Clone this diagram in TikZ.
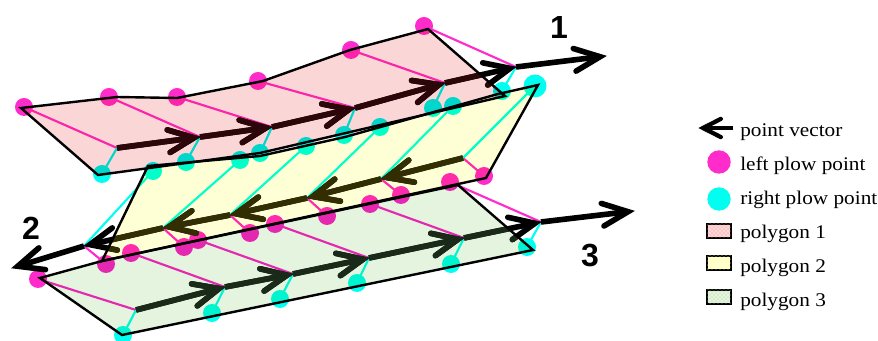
\documentclass[tikz,border=0pt]{standalone}
\usepackage{fontspec}
\setmainfont{Liberation Serif}
\newfontfamily\numfont{Liberation Sans}
\newfontfamily\legfont[FakeStretch=1.1]{Liberation Serif}
\usetikzlibrary{calc,patterns}
\definecolor{magpt}{HTML}{FF2BCB}
\definecolor{cyanpt}{HTML}{00FFF0}
\definecolor{fillA}{HTML}{FBD6D6}
\definecolor{fillB}{HTML}{FFFFD6}
\definecolor{fillC}{HTML}{E4F4DE}
\definecolor{patA}{HTML}{FF8E8E}
\definecolor{patB}{HTML}{FFFF70}
\definecolor{patC}{HTML}{A8DC98}
\definecolor{vecA}{HTML}{2C0608}
\definecolor{vecB}{HTML}{322E02}
\definecolor{vecC}{HTML}{1A2A18}
\tikzset{
  x=0.75pt,y=-0.75pt,
  lpt/.style={fill=magpt,draw=none},
  rpt/.style={fill=cyanpt,draw=none},
  lline/.style={draw=magpt,line width=1.6pt},
  rline/.style={draw=cyanpt,line width=1.6pt},
  poly/.style={draw=black,line width=1.8pt,line join=miter},
  vecshaft/.style={line width=4.2pt},
  vechead/.style={line width=4.2pt,line cap=round,line join=miter},
  polylabel/.style={font=\numfont\bfseries\fontsize{24}{24}\selectfont,inner sep=0pt},
  legendtext/.style={font=\legfont\fontsize{14.5}{14.5}\selectfont,anchor=base west,inner sep=0pt},
  swatch/.style={draw=black,line width=1.8pt},
}
% #1 colour, #2 from, #3 to: a thick shaft with an open head at #3
\newcommand\vecseg[3]{%
  \coordinate (apex) at ($(#3)!4.5pt!(#2)$);
  \draw[vecshaft,#1] (#2) -- (apex);
  \draw[vechead,#1] ($(apex)!21pt!24:(#2)$) -- (apex) -- ($(apex)!21pt!-24:(#2)$);
}
\begin{document}
\begin{tikzpicture}
\useasboundingbox (0,0) rectangle (878,341);
% polygon 1 points
\coordinate (A1) at (24,107);\coordinate (A2) at (109,97);\coordinate (A3) at (177,97);\coordinate (A4) at (258,81);\coordinate (A5) at (351,50);\coordinate (A6) at (424,26);
\coordinate (B1) at (102,174);\coordinate (B2) at (186,162);\coordinate (B3) at (260,153);\coordinate (B4) at (344,135);\coordinate (B5) at (433,108);\coordinate (B6) at (502,91);
\coordinate (V1) at (117,148);\coordinate (V2) at (200,137);\coordinate (V3) at (272,127);\coordinate (V4) at (355,108);\coordinate (V5) at (445,83);\coordinate (V6) at (516,67);\coordinate (T1) at (606,56);
% polygon 2 points
\coordinate (C1) at (106,264);\coordinate (C2) at (184,247);\coordinate (C3) at (250,233);\coordinate (C4) at (327,216);\coordinate (C5) at (401,195);\coordinate (C6) at (484,176);
\coordinate (D1) at (153,171);\coordinate (D2) at (240,160);\coordinate (D3) at (306,146);\coordinate (D4) at (380,127);\coordinate (D5) at (453,106);\coordinate (D6) at (535,86);
\coordinate (W1) at (84,246);\coordinate (W2) at (163,228);\coordinate (W3) at (230,215);\coordinate (W4) at (307,198);\coordinate (W5) at (381,179);\coordinate (W6) at (463,158);\coordinate (T2) at (12,268);
% polygon 3 points
\coordinate (E1) at (38,279);\coordinate (E2) at (131,253);\coordinate (E3) at (198,240);\coordinate (E4) at (275,224);\coordinate (E5) at (370,204);\coordinate (E6) at (450,182);
\coordinate (F1) at (123,335);\coordinate (F2) at (212,313);\coordinate (F3) at (280,299);\coordinate (F4) at (357,283);\coordinate (F5) at (451,264);\coordinate (F6) at (527,247);
\coordinate (X1) at (136,310);\coordinate (X2) at (225,287);\coordinate (X3) at (293,274);\coordinate (X4) at (369,258);\coordinate (X5) at (464,238);\coordinate (X6) at (541,222);\coordinate (T3) at (634,211);
% polygon outline vertices
\coordinate (PA1) at (21,108);\coordinate (PA2) at (117,97);\coordinate (PA3) at (177,98);\coordinate (PA4) at (263,81);\coordinate (PA5) at (350,50);\coordinate (PA6) at (428,29);\coordinate (PA7) at (505,96);\coordinate (PA8) at (260,153);\coordinate (PA9) at (98,175);
\coordinate (PB1) at (148,166);\coordinate (PB2) at (260,156);\coordinate (PB3) at (345,137);\coordinate (PB4) at (498,94);\coordinate (PB5) at (538,85);\coordinate (PB6) at (486,178);\coordinate (PB7) at (102,261);
\coordinate (PC1) at (40,278);\coordinate (PC2) at (102,261);\coordinate (PC3) at (458,185);\coordinate (PC4) at (533,250);\coordinate (PC5) at (122,335);
% plow points
\foreach \n in {A1,A2,A3,A4,A5,A6,C1,C2,C3,C4,C5,C6,E1,E2,E3,E4,E5,E6} \fill[lpt] (\n) circle (9);
\foreach \n in {B1,B2,B3,B4,B5,B6,D1,D2,D3,D4,D5,F1,F2,F3,F4,F5,F6} \fill[rpt] (\n) circle (9);
\fill[rpt] (D6) circle (11.5);
% plow lines
\foreach \a/\b in {A1/V1,A2/V2,A3/V3,A4/V4,A5/V5,A6/V6,C1/W1,C2/W2,C3/W3,C4/W4,C5/W5,C6/W6,E1/X1,E2/X2,E3/X3,E4/X4,E5/X5,E6/X6} \draw[lline] (\a) -- (\b);
\foreach \a/\b in {B1/V1,B2/V2,B3/V3,B4/V4,B5/V5,B6/V6,D1/W1,D2/W2,D3/W3,D4/W4,D5/W5,D6/W6,F1/X1,F2/X2,F3/X3,F4/X4,F5/X5,F6/X6} \draw[rline] (\a) -- (\b);
% polygon fills
\begin{scope}[blend mode=multiply]
\fill[fillB] (PB1) -- (PB2) -- (PB3) -- (PB4) -- (PB5) -- (PB6) -- (PB7) -- cycle;
\fill[fillC] (PC1) -- (PC2) -- (PC3) -- (PC4) -- (PC5) -- cycle;
\fill[fillA] (PA1) -- (PA2) -- (PA3) -- (PA4) -- (PA5) -- (PA6) -- (PA7) -- (PA8) -- (PA9) -- cycle;
\end{scope}
% point vectors, black
\foreach \a/\b in {V1/V2,V2/V3,V3/V4,V4/V5,V5/V6,V6/T1,W6/W5,W5/W4,W4/W3,W3/W2,W2/W1,W1/T2,X1/X2,X2/X3,X3/X4,X4/X5,X5/X6,X6/T3} {\vecseg{black}{\a}{\b}}
% point vectors, tinted inside each polygon
\begin{scope}
\clip (PA1) -- (PA2) -- (PA3) -- (PA4) -- (PA5) -- (PA6) -- (PA7) -- (PA8) -- (PA9) -- cycle;
\foreach \a/\b in {V1/V2,V2/V3,V3/V4,V4/V5,V5/V6} {\vecseg{vecA}{\a}{\b}}
\end{scope}
\begin{scope}
\clip (PB1) -- (PB2) -- (PB3) -- (PB4) -- (PB5) -- (PB6) -- (PB7) -- cycle;
\foreach \a/\b in {W6/W5,W5/W4,W4/W3,W3/W2,W2/W1} {\vecseg{vecB}{\a}{\b}}
\end{scope}
\begin{scope}
\clip (PC1) -- (PC2) -- (PC3) -- (PC4) -- (PC5) -- cycle;
\foreach \a/\b in {X1/X2,X2/X3,X3/X4,X4/X5,X5/X6} {\vecseg{vecC}{\a}{\b}}
\end{scope}
% polygon outlines
\draw[poly] (PB1) -- (PB2) -- (PB3) -- (PB4) -- (PB5) -- (PB6) -- (PB7) -- cycle;
\draw[poly] (PC1) -- (PC2) -- (PC3) -- (PC4) -- (PC5) -- cycle;
\draw[poly] (PA1) -- (PA2) -- (PA3) -- (PA4) -- (PA5) -- (PA6) -- (PA7) -- (PA8) -- (PA9) -- cycle;
% labels
\node[polylabel] (n1) at (559,27) {1};
\node[polylabel] (n2) at (31,228) {2};
\node[polylabel] (n3) at (590,256) {3};
% legend
\coordinate (la) at (733,128);\coordinate (lb) at (698,128);
\coordinate (lc) at (703,128);
\draw[black,line width=3.2pt] (la) -- (lc);
\draw[vechead,black,line width=3.2pt] ($(lc)!15pt!27:(la)$) -- (lc) -- ($(lc)!15pt!-27:(la)$);
\node[legendtext] (t1) at (740,137) {point vector};
\fill[lpt] (719,162) circle (11.7);
\node[legendtext] (t2) at (740,171) {left plow point};
\fill[rpt] (719,199) circle (11.7);
\node[legendtext] (t3) at (740,205) {right plow point};
\filldraw[swatch,fill=fillA] (707,224) rectangle (731,238);
\fill[pattern=crosshatch dots,pattern color=patA] (707,224) rectangle (731,238);
\node[legendtext] (t4) at (740,239) {polygon 1};
\filldraw[swatch,fill=fillB] (707,256) rectangle (731,270);
\fill[pattern=crosshatch dots,pattern color=patB] (707,256) rectangle (731,270);
\node[legendtext] (t5) at (740,273) {polygon 2};
\filldraw[swatch,fill=fillC] (707,290) rectangle (731,304);
\fill[pattern=crosshatch dots,pattern color=patC] (707,290) rectangle (731,304);
\node[legendtext] (t6) at (740,307) {polygon 3};
\end{tikzpicture}
\end{document}
